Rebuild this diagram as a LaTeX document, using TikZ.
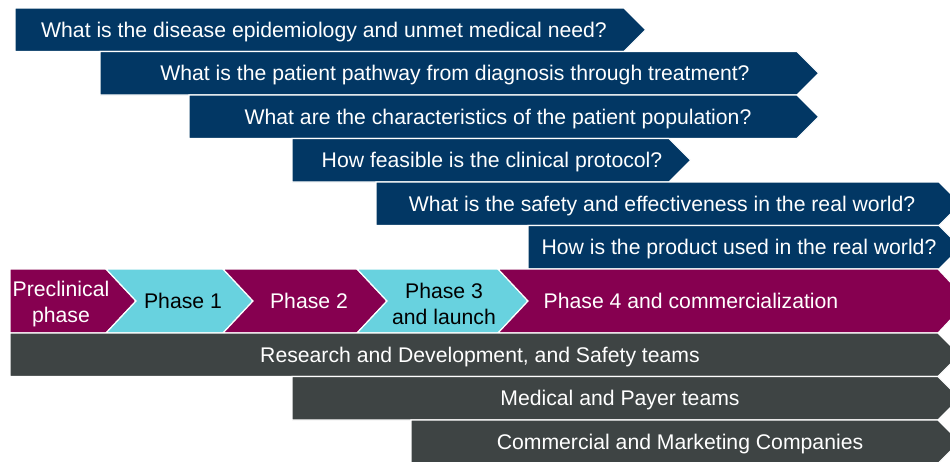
\documentclass[tikz,border=0pt]{standalone}
\usepackage{fontspec}
\setmainfont{Liberation Sans}
\definecolor{navy}{HTML}{023764}
\definecolor{plum}{HTML}{860050}
\definecolor{aqua}{HTML}{68D2DF}
\definecolor{slate}{HTML}{3E4444}
\tikzset{
	band/.style={draw=white, line width=1.2pt, line join=miter},
	lbl/.style={text=white, font=\fontsize{21.2}{25.5}\selectfont, text height=15pt, text depth=0pt, inner sep=0pt},
	lbltwo/.style={text=white, font=\fontsize{21.2}{25.5}\selectfont, align=center, inner sep=0pt, yshift=-3pt},
}
\begin{document}
\begin{tikzpicture}[x=1pt, y=-1pt]
		\useasboundingbox ( 0, 0 ) rectangle ( 950, 461 );

		% вопросы
		\draw [band, fill=navy] ( 15, 8 ) -- ( 624, 8 ) -- ( 645.75, 29.75 ) -- ( 624, 51.5 ) -- ( 15, 51.5 ) -- cycle
			node [lbl] (q1) at ( 324, 29.75 ) {What is the disease epidemiology and unmet medical need?};
		\draw [band, fill=navy] ( 100, 51.5 ) -- ( 797, 51.5 ) -- ( 818.75, 73.25 ) -- ( 797, 95 ) -- ( 100, 95 ) -- cycle
			node [lbl] (q2) at ( 455, 73.25 ) {What is the patient pathway from diagnosis through treatment?};
		\draw [band, fill=navy] ( 189, 95 ) -- ( 797, 95 ) -- ( 818.75, 116.75 ) -- ( 797, 138.5 ) -- ( 189, 138.5 ) -- cycle
			node [lbl] (q3) at ( 498, 116.75 ) {What are the characteristics of the patient population?};
		\draw [band, fill=navy] ( 292, 138.5 ) -- ( 669, 138.5 ) -- ( 690.75, 160.25 ) -- ( 669, 182 ) -- ( 292, 182 ) -- cycle
			node [lbl] (q4) at ( 492, 160.25 ) {How feasible is the clinical protocol?};
		\draw [band, fill=navy] ( 376, 182 ) -- ( 939, 182 ) -- ( 960.75, 203.75 ) -- ( 939, 225.5 ) -- ( 376, 225.5 ) -- cycle
			node [lbl] (q5) at ( 662, 203.75 ) {What is the safety and effectiveness in the real world?};
		\draw [band, fill=navy] ( 528, 225.5 ) -- ( 939, 225.5 ) -- ( 960.75, 247.25 ) -- ( 939, 269 ) -- ( 528, 269 ) -- cycle
			node [lbl] (q6) at ( 739, 247.25 ) {How is the product used in the real world?};

		% фазы
		\draw [band, fill=plum] ( 10, 269 ) -- ( 106, 269 ) -- ( 136, 301 ) -- ( 106, 333 ) -- ( 10, 333 ) -- cycle
			node [lbltwo] (pre) at ( 61, 301 ) {Preclinical\\phase};
		\draw [band, fill=aqua] ( 106, 269 ) -- ( 223, 269 ) -- ( 253, 301 ) -- ( 223, 333 ) -- ( 106, 333 ) -- ( 136, 301 ) -- cycle
			node [lbl, text=black] (ph1) at ( 183, 301 ) {Phase 1};
		\draw [band, fill=plum] ( 223, 269 ) -- ( 357, 269 ) -- ( 387, 301 ) -- ( 357, 333 ) -- ( 223, 333 ) -- ( 253, 301 ) -- cycle
			node [lbl] (ph2) at ( 309, 301 ) {Phase 2};
		\draw [band, fill=aqua] ( 357, 269 ) -- ( 498, 269 ) -- ( 528, 301 ) -- ( 498, 333 ) -- ( 357, 333 ) -- ( 387, 301 ) -- cycle
			node [lbltwo, text=black] (ph3) at ( 444, 301 ) {Phase 3\\and launch};
		\draw [band, fill=plum] ( 498, 269 ) -- ( 938, 269 ) -- ( 968, 301 ) -- ( 938, 333 ) -- ( 498, 333 ) -- ( 528, 301 ) -- cycle
			node [lbl] (ph4) at ( 691, 301 ) {Phase 4 and commercialization};

		% команды
		\draw [band, fill=slate] ( 10, 333 ) -- ( 938, 333 ) -- ( 959.75, 354.75 ) -- ( 938, 376.5 ) -- ( 10, 376.5 ) -- cycle
			node [lbl] (t1) at ( 480, 354.75 ) {Research and Development, and Safety teams};
		\draw [band, fill=slate] ( 292, 376.5 ) -- ( 938, 376.5 ) -- ( 959.75, 398.25 ) -- ( 938, 420 ) -- ( 292, 420 ) -- cycle
			node [lbl] (t2) at ( 620, 398.25 ) {Medical and Payer teams};
		\draw [band, fill=slate] ( 411, 420 ) -- ( 938, 420 ) -- ( 959.75, 441.75 ) -- ( 938, 463.5 ) -- ( 411, 463.5 ) -- cycle
			node [lbl] (t3) at ( 680, 441.75 ) {Commercial and Marketing Companies};
	\end{tikzpicture}
\end{document}
